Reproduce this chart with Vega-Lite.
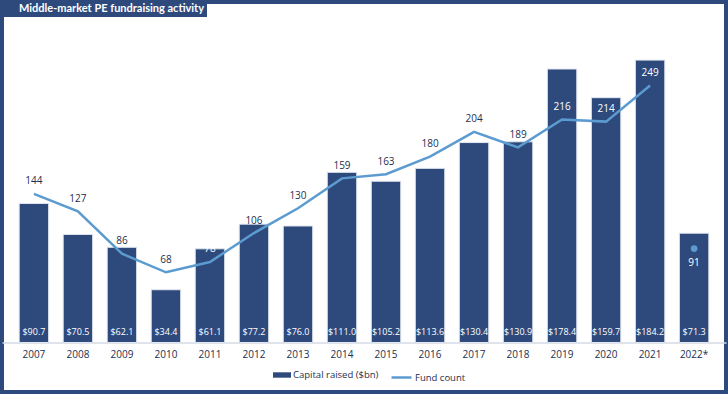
{
  "$schema": "https://vega.github.io/schema/vega-lite/v6.json",
  "width": 724,
  "height": 390,
  "autosize": {"type": "none"},
  "padding": 2,
  "background": "white",
  "config": {
    "view": {"stroke": "#2E4A7D", "strokeWidth": 4},
    "font": "Open Sans"
  },
  "data": {
    "values": [
      {"year": "2007", "capital": 90.7, "count": 144},
      {"year": "2008", "capital": 70.5, "count": 127},
      {"year": "2009", "capital": 62.1, "count": 86},
      {"year": "2010", "capital": 34.4, "count": 68},
      {"year": "2011", "capital": 61.1, "count": 78},
      {"year": "2012", "capital": 77.2, "count": 106},
      {"year": "2013", "capital": 76.0, "count": 130},
      {"year": "2014", "capital": 111.0, "count": 159},
      {"year": "2015", "capital": 105.2, "count": 163},
      {"year": "2016", "capital": 113.6, "count": 180},
      {"year": "2017", "capital": 130.4, "count": 204},
      {"year": "2018", "capital": 130.9, "count": 189},
      {"year": "2019", "capital": 178.4, "count": 216},
      {"year": "2020", "capital": 159.7, "count": 214},
      {"year": "2021", "capital": 184.2, "count": 249},
      {"year": "2022*", "capital": 71.3, "count": 91}
    ]
  },
  "encoding": {
    "x": {
      "field": "year",
      "type": "nominal",
      "sort": null,
      "scale": {"paddingInner": 0.33, "paddingOuter": 0.39},
      "axis": {
        "title": null,
        "offset": -49.5,
        "ticks": false,
        "labelAngle": 0,
        "labelPadding": 7,
        "labelFont": "Open Sans",
        "labelFontSize": 10,
        "labelColor": "#22304F",
        "domainColor": "#D3DAE6",
        "domainWidth": 1.5
      }
    }
  },
  "layer": [
    {
      "layer": [
        {
          "mark": {"type": "bar", "stroke": "#E3E8F1", "strokeWidth": 1},
          "encoding": {
            "y": {
              "field": "capital",
              "type": "quantitative",
              "scale": {"domain": [-32.3, 222.1], "nice": false},
              "axis": null
            },
            "fill": {
              "datum": "Capital raised ($bn)",
              "scale": {"range": ["#2E4A7D"]},
              "legend": {
                "orient": "none",
                "legendX": 271,
                "legendY": 364,
                "title": null,
                "padding": 0,
                "symbolType": "M-1,-0.3H1V0.3H-1Z",
                "symbolSize": 324,
                "symbolStrokeWidth": 0,
                "labelFont": "Open Sans",
                "labelFontSize": 9.5,
                "labelColor": "#22304F",
                "labelOffset": 2
              }
            }
          }
        },
        {
          "mark": {"type": "text", "color": "white", "dy": -10, "fontSize": 9, "baseline": "middle", "font": "Open Sans"},
          "encoding": {
            "y": {"datum": 0, "type": "quantitative"},
            "text": {"field": "capital", "type": "quantitative", "format": "$.1f"}
          }
        }
      ]
    },
    {
      "layer": [
        {
          "transform": [{"filter": "datum.year !== '2022*'"}],
          "mark": {"type": "line", "strokeWidth": 2.5},
          "encoding": {
            "y": {
              "field": "count",
              "type": "quantitative",
              "scale": {"domain": [-48, 329.9], "nice": false},
              "axis": null
            },
            "stroke": {
              "datum": "Fund count",
              "scale": {"range": ["#5B9BD0"]},
              "legend": {
                "orient": "none",
                "legendX": 388,
                "legendY": 364,
                "title": null,
                "padding": 0,
                "symbolType": "stroke",
                "symbolSize": 400,
                "symbolStrokeWidth": 2.5,
                "labelFont": "Open Sans",
                "labelFontSize": 9.5,
                "labelColor": "#22304F",
                "labelOffset": 2
              }
            }
          }
        },
        {
          "transform": [{"filter": "datum.year !== '2022*'"}],
          "mark": {"type": "text", "dy": -12.5, "fontSize": 10, "baseline": "middle", "font": "Open Sans"},
          "encoding": {
            "y": {"field": "count", "type": "quantitative"},
            "text": {"field": "count", "type": "quantitative"},
            "color": {
              "condition": {"test": "datum.count * 1.032 + 12 < datum.capital * 1.533", "value": "white"},
              "value": "#22304F"
            }
          }
        },
        {
          "transform": [{"filter": "datum.year === '2022*'"}],
          "mark": {"type": "point", "filled": true, "size": 45, "color": "#5B9BD0", "opacity": 1},
          "encoding": {
            "y": {"field": "count", "type": "quantitative"},
            "shape": {
              "datum": "Middle-market PE fundraising activity",
              "scale": {"range": ["circle"]},
              "legend": {
                "orient": "none",
                "legendX": -2,
                "legendY": -2,
                "title": null,
                "fillColor": "#2E4A7D",
                "padding": 3,
                "symbolSize": 0,
                "symbolOpacity": 0,
                "symbolStrokeWidth": 0,
                "labelColor": "white",
                "labelFont": "Lato",
                "labelFontWeight": "bold",
                "labelFontSize": 11,
                "labelOffset": 5,
                "labelLimit": 400
              }
            }
          }
        },
        {
          "transform": [{"filter": "datum.year === '2022*'"}],
          "mark": {"type": "text", "dy": 14, "color": "white", "fontSize": 10, "baseline": "middle", "font": "Open Sans"},
          "encoding": {
            "y": {"field": "count", "type": "quantitative"},
            "text": {"field": "count", "type": "quantitative"}
          }
        }
      ]
    }
  ],
  "resolve": {"scale": {"y": "independent"}}
}
